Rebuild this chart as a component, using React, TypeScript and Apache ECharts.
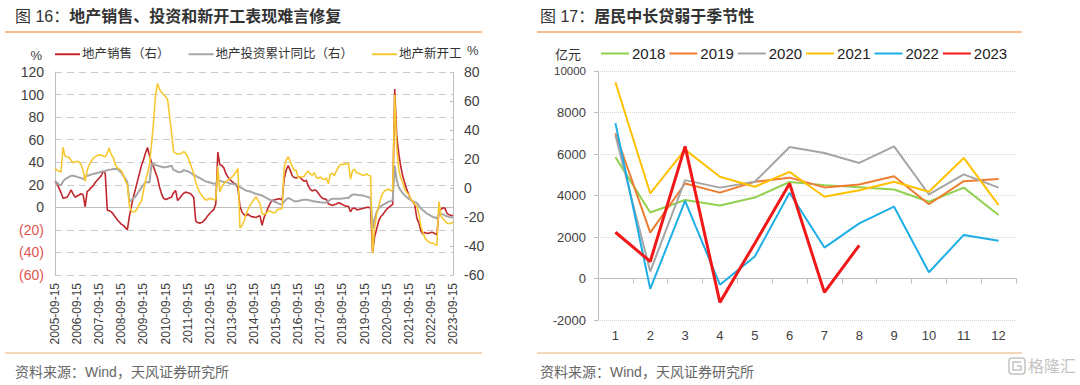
import React, { useEffect, useRef } from 'react';
import * as echarts from 'echarts';

const FONT = "'Liberation Sans', 'Noto Sans CJK SC', sans-serif";

// ---------- Left panel (图16) ----------
const leftTitleA = '图 16：';
const leftTitleB = '地产销售、投资和新开工表现难言修复';
const leftLegend = ['地产销售（右）', '地产投资累计同比（右）', '地产新开工'];

// monthly (Jan merged into Feb), 2005-09 .. 2023-09
// 地产销售 (left axis scale)
const salesYoY = [
  23, 21, 17, 13,
  8, 8.5, 9, 12, 15.5, 12, 9, 10, 11, 12, 11,
  0.5, 14, 15.5, 17.5, 19, 22, 24, 26, 28, 32, 30,
  -2.5, -3, -4, -6, -8.5, -11, -13, -15, -16, -18, -19.7,
  -8, 1, 9, 16, 23, 30, 37, 42, 48, 53, 46,
  40, 36, 31, 26, 18, 12, 8, 7, 7.5, 8.5, 9,
  13, 15, 6, 8, 10.5, 12.5, 13.5, 13, 12.5, 11, 9,
  -12, -13.5, -14, -13.5, -12, -10, -7.5, -5.5, -3.5, -2, 3,
  49, 38, 37, 35, 30, 27, 24.5, 23, 21.5, 20.5, 17,
  1, -4, -6.5, -7.5, -6, -7.5, -8.5, -8.5, -9, -8, -7.5,
  -16, -9, -5, -0.5, 3.5, 6, 6.5, 7, 7.5, 7.5, 6.5,
  25, 33, 37, 33, 28, 26.5, 26, 27, 26.5, 24.5, 23,
  24, 19, 16, 14.5, 15.5, 15, 12.5, 10, 8, 7.5, 7,
  3, 2.5, 1.5, 2.5, 3, 4, 3.5, 2.5, 1.5, 1, 1,
  -4, -1, -0.5, -2, -2, -1.5, -1, -0.5, 0, 0, -0.5,
  -39.9, -26.3, -19.3, -12.3, -8.4, -6.6, -4.1, -1.8, 0, 1.3, 2.6,
  104.9, 63.8, 48.1, 36.4, 27.7, 21.5, 15.9, 11.3, 7.1, 4.8, 1.9,
  -9.6, -13.8, -20.9, -23.6, -22.2, -23.1, -23, -22.2, -22.3, -23.3, -24.3,
  -3.6, -1.8, -0.4, -0.9, -5.3, -6.5, -7.1, -7.5,
];

// 地产投资累计同比 (left axis scale)
const investYoY = [
  23, 22, 20, 19.5,
  23, 25, 26, 27, 28, 28, 27.5, 27, 26.5, 26, 25,
  27, 28, 28.5, 29, 29.5, 30, 30.5, 31, 31.5, 32, 32,
  33, 33.4, 33.5, 34, 34, 34, 32.5, 31, 28, 25.5, 22,
  5, 6.5, 8, 9.5, 12, 15, 17.5, 20, 22, 22.5, 22,
  38, 38.5, 37.5, 37, 36.5, 36, 35.5, 35.5, 36, 36.5, 37,
  33, 32.5, 31.5, 31, 31.5, 33, 32.5, 32, 31, 30, 28.5,
  28, 27, 26, 25, 24, 23, 22.5, 22, 21.5, 21, 21,
  24, 23.5, 23, 22.5, 22.5, 22, 21, 21, 20.5, 20, 19.5,
  18, 17, 16, 15, 14.5, 14, 13.5, 12.5, 12, 11.5, 11,
  10.5, 9.5, 8.5, 7.5, 6.5, 6, 5, 4.5, 3.5, 3, 2.5,
  5, 7, 8.3, 7.5, 6.5, 5.5, 5.4, 5.5, 6, 6.5, 6.8,
  6.8, 6.5, 6, 5.5, 5.4, 5, 4.8, 4.5, 4.3, 4.1, 4.5,
  5.4, 7, 7.7, 7.7, 7.7, 7.7, 7.7, 7.8, 8, 8.2, 8.3,
  10, 11.2, 11.5, 11.2, 11, 10.8, 10.6, 10, 9.5, 9, 8.3,
  -18.9, -10, -4.1, -1, 1, 2, 3, 4, 5, 5.5, 6.2,
  37, 24, 18, 15, 12.5, 10.6, 9, 7.5, 6.5, 5.5, 4.5,
  4, 1.5, -1, -2.5, -4, -5.5, -6.5, -7.5, -8.5, -9, -10,
  -5.7, -5.8, -6.2, -7.2, -7.9, -8.5, -8.8, -9.1,
];

// 地产新开工 (right axis scale)
const startsYoY = [
  13.6, 12.5, 11.5, 11,
  28, 22, 21.5, 21, 19, 17.5, 18, 18.5, 18, 16, 12,
  4.5, 12, 16, 18.5, 20.5, 21.5, 22.5, 23, 22.5, 22, 21.5,
  24, 27.5, 23, 21, 16, 14, 13, 12, 9, 5, 2,
  -12, -16, -16.5, -16, -14, -11, -9, -2, 5, 10, 16,
  30, 45, 64, 72, 68, 66, 64.5, 63, 61, 50, 38,
  25, 24, 23.5, 23.5, 24, 25, 24, 21.5, 18, 14, 10,
  4, 0, -3, -5, -7, -8.3, -8, -7, -7.5, -8, -8,
  15, -2.5, 1, 3, 4, 5.5, 6.5, 7.5, 9, 11, 13.5,
  -27.5, -26, -23, -18, -15, -12, -10, -8, -6, -8.5, -11,
  -17.7, -18.4, -17.3, -16.1, -15.8, -16.8, -17.3, -16.3, -14.5, -14.7, -14,
  13.7, 19.2, 21.4, 18.5, 14.9, 12.2, 12.3, 6.9, 7.7, 7.6, 8.1,
  10.4, 11.6, 9.7, 8.8, 10.6, 7.2, 6.7, 7.7, 6.4, 5.7, 7,
  2.9, 9.7, 10.1, 8.5, 11.8, 14.4, 16.1, 16.4, 16.3, 16.8, 17.2,
  6, 11.9, 13.1, 10.5, 10.1, 9.5, 8.9, 8.6, 10, 8.6, 8.5,
  -44.9, -27.2, -18.4, -12.8, -7.6, -3.6, -1.9, -1.4, -0.7, -2, -1.2,
  64.3, 28.2, 12.8, 6.9, 3.8, -0.9, -3.2, -4.5, -7.7, -9.1, -11.4,
  -12.2, -17.5, -26.3, -30.6, -34.4, -36.1, -37.2, -38, -37.8, -38.9, -39.4,
  -9.4, -19.2, -21.2, -22.6, -24.3, -24.5, -24.4, -23.4,
];

function buildMonthCats(): string[] {
  const out: string[] = [];
  for (let y = 2005; y <= 2023; y++) {
    for (let m = 2; m <= 12; m++) {
      if (y === 2005 && m < 9) continue;
      if (y === 2023 && m > 9) continue;
      out.push(`${y}-${String(m).padStart(2, '0')}-15`);
    }
  }
  return out;
}
const monthCats = buildMonthCats();

// ---------- Right panel (图17) ----------
const rightTitleA = '图 17：';
const rightTitleB = '居民中长贷弱于季节性';
const monthNums = ['1', '2', '3', '4', '5', '6', '7', '8', '9', '10', '11', '12'];
const yearNames = ['2018', '2019', '2020', '2021', '2022', '2023'];
const yearColors = ['#92d050', '#ed7d31', '#a5a5a5', '#ffc000', '#1eaee6', '#f01818'];
const loans2018 = [5850, 3180, 3780, 3520, 3900, 4650, 4500, 4400, 4290, 3700, 4380, 3060];
const loans2019 = [7000, 2210, 4580, 4140, 4660, 4860, 4390, 4530, 4930, 3580, 4690, 4800];
const loans2020 = [6900, 340, 4740, 4380, 4660, 6340, 6050, 5570, 6370, 4050, 5020, 4380];
const loans2021 = [9460, 4100, 6210, 4900, 4420, 5140, 3940, 4250, 4660, 4180, 5810, 3540];
const loans2022 = [7490, -500, 3740, -300, 1060, 4130, 1490, 2660, 3460, 300, 2100, 1820];
const loans2023 = [2230, 820, 6370, -1150, 1690, 4580, -670, 1600];
const loansByYear = [loans2018, loans2019, loans2020, loans2021, loans2022, loans2023];

const sourceText = '资料来源：Wind，天风证券研究所';

export default function App() {
  const ref = useRef<HTMLDivElement>(null);
  useEffect(() => {
    if (!ref.current) return;
    const chart = echarts.init(ref.current, null, { renderer: 'svg' });
    const axisGray = '#bfbfbf';
    const labelColor = '#404040';
    const titleText = (x: number, a: string, b: string) => ({
      type: 'text', x, y: 16,
      style: {
        text: `{a|${a}}{b|${b}}`,
        textVerticalAlign: 'middle',
        rich: {
          a: { fontSize: 16, fontFamily: FONT, fill: '#333', fontWeight: 'normal' },
          b: { fontSize: 16, fontFamily: FONT, fill: '#333', fontWeight: 'bold' },
        },
      },
    });
    const hline = (x1: number, x2: number, y: number, color: string) => ({
      type: 'line', shape: { x1, y1: y, x2, y2: y }, style: { stroke: color, lineWidth: 1.5 },
    });
    const plainText = (x: number, y: number, text: string, size: number, color: string, align = 'left') => ({
      type: 'text', x, y,
      style: { text, fontSize: size, fontFamily: FONT, fill: color, textAlign: align, textVerticalAlign: 'middle' },
    });

    const option: any = {
      animation: false,
      backgroundColor: '#ffffff',
      textStyle: { fontFamily: FONT },
      graphic: [
        titleText(15, leftTitleA, leftTitleB),
        titleText(540, rightTitleA, rightTitleB),
        hline(5, 482, 32, '#f4a76a'),
        hline(537, 1022, 32, '#f4a76a'),
        hline(5, 482, 353, '#f0c8a2'),
        hline(537, 1022, 353, '#f0c8a2'),
        plainText(15, 372, sourceText, 14, '#666'),
        plainText(540, 372, sourceText, 14, '#666'),
        plainText(42, 55, '%', 13, labelColor, 'right'),
        plainText(467, 50, '%', 13, labelColor, 'left'),
        plainText(568, 54, '亿元', 13, '#333', 'center'),
        {
          type: 'rect', shape: { x: 1009, y: 358, width: 16, height: 16, r: 3 },
          style: { fill: 'none', stroke: '#c4c4c4', lineWidth: 1.5 },
        },
        {
          type: 'polyline', shape: { points: [[1021, 362], [1013, 362], [1013, 370], [1021, 370], [1021, 366], [1017, 366]] },
          style: { fill: 'none', stroke: '#c4c4c4', lineWidth: 1.5 },
        },
        plainText(1028, 366, '格隆汇', 16, '#c4c4c4'),
      ],
      legend: [
        {
          data: leftLegend, left: 55, top: 48, padding: 0, icon: 'rect', itemWidth: 25, itemHeight: 2, itemGap: 19,
          textStyle: { fontSize: 12.5, color: '#333', fontFamily: FONT, padding: [0, 0, 0, -3] },
        },
        {
          data: yearNames, left: 601, top: 46, padding: 0, icon: 'rect', itemWidth: 28, itemHeight: 2, itemGap: 4,
          textStyle: { fontSize: 15, color: '#222', fontFamily: FONT, padding: [0, 0, 0, -2] },
        },
      ],
      grid: [
        { left: 55, top: 72, width: 398, height: 203 },
        { left: 598, top: 71, width: 418, height: 249 },
      ],
      xAxis: [
        {
          gridIndex: 0, type: 'category', data: monthCats, boundaryGap: false, position: 'bottom',
          axisLine: { show: false, onZero: false }, axisTick: { show: false }, splitLine: { show: false },
          axisLabel: { interval: 10, rotate: 90, fontSize: 12, color: labelColor, margin: 8, fontFamily: FONT },
        },
        {
          gridIndex: 0, type: 'category', data: monthCats, boundaryGap: false, position: 'top',
          axisLine: { show: true, onZero: true, lineStyle: { color: axisGray, width: 1 } },
          axisTick: { show: false }, axisLabel: { show: false }, splitLine: { show: false },
        },
        {
          gridIndex: 1, type: 'category', data: monthNums, position: 'bottom',
          axisLine: { show: false, onZero: false }, axisTick: { show: false },
          axisLabel: { fontSize: 13, color: labelColor, margin: 9, fontFamily: FONT },
        },
        {
          gridIndex: 1, type: 'category', data: monthNums, position: 'top',
          axisLine: { show: true, onZero: true, lineStyle: { color: axisGray } },
          axisTick: { show: true, inside: true, length: 5, lineStyle: { color: axisGray } },
          axisLabel: { show: false },
        },
      ],
      yAxis: [
        {
          gridIndex: 0, type: 'value', min: -60, max: 120, interval: 20,
          axisLine: { show: true, lineStyle: { color: axisGray } }, axisTick: { show: false },
          splitLine: { show: true, lineStyle: { color: '#c9c9c9', type: [7, 5], width: 1 } },
          axisLabel: {
            fontSize: 14, margin: 11, fontFamily: FONT,
            formatter: (v: number) => (v < 0 ? `(${-v})` : `${v}`),
            color: (v: any) => (Number(v) < 0 ? '#e0564f' : labelColor),
          },
        },
        {
          gridIndex: 0, type: 'value', position: 'right', min: -60, max: 80, interval: 20,
          axisLine: { show: true, lineStyle: { color: axisGray } },
          axisTick: { show: true, inside: true, length: 3, lineStyle: { color: axisGray } },
          splitLine: { show: false },
          axisLabel: { fontSize: 14, margin: 11, color: labelColor, fontFamily: FONT, formatter: (v: number) => `${v}` },
        },
        {
          gridIndex: 1, type: 'value', min: -2000, max: 10000, interval: 2000,
          axisLine: { show: true, lineStyle: { color: axisGray } },
          axisTick: { show: true, length: 4, lineStyle: { color: axisGray } },
          splitLine: { show: true, lineStyle: { color: '#d4d4d4', type: 'dotted', width: 1 } },
          axisLabel: {
            fontSize: 13, margin: 12, color: labelColor, fontFamily: FONT,
            formatter: (v: number) => (v === 10000 ? '{s|10000}' : `${v}`),
            rich: { s: { fontSize: 11.5, color: labelColor, fontFamily: FONT } },
          },
        },
      ],
      series: [
        {
          name: leftLegend[0], type: 'line', xAxisIndex: 0, yAxisIndex: 0, data: salesYoY,
          symbol: 'none', showSymbol: false, lineStyle: { color: '#c1272d', width: 1.6 }, itemStyle: { color: '#c1272d' },
        },
        {
          name: leftLegend[1], type: 'line', xAxisIndex: 0, yAxisIndex: 0, data: investYoY,
          symbol: 'none', showSymbol: false, lineStyle: { color: '#a6a6a6', width: 2 }, itemStyle: { color: '#a6a6a6' },
        },
        {
          name: leftLegend[2], type: 'line', xAxisIndex: 0, yAxisIndex: 1, data: startsYoY,
          symbol: 'none', showSymbol: false, lineStyle: { color: '#f7c830', width: 1.6 }, itemStyle: { color: '#f7c830' },
        },
        ...yearNames.map((name, i) => ({
          name, type: 'line', xAxisIndex: 2, yAxisIndex: 2, data: loansByYear[i],
          symbol: 'none', showSymbol: false,
          lineStyle: { color: yearColors[i], width: name === '2023' ? 3 : 2 },
          itemStyle: { color: yearColors[i] },
        })),
      ],
    };
    chart.setOption(option);
    return () => chart.dispose();
  }, []);
  return (
    <div
      ref={ref}
      style={{ position: 'absolute', left: 0, top: 0, width: 1080, height: 385, background: '#fff' }}
    />
  );
}
